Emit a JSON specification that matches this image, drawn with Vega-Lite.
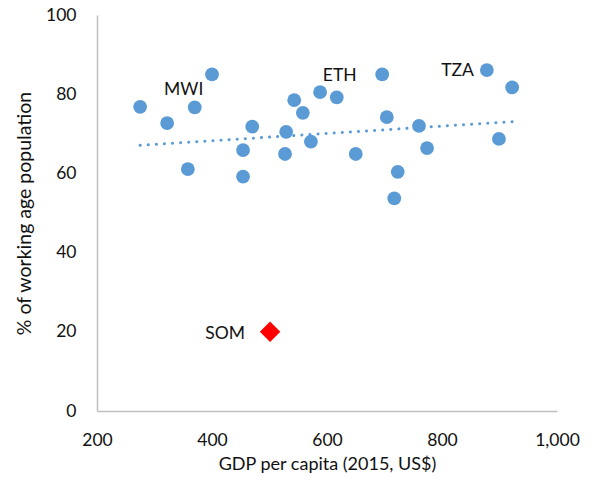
{
  "$schema": "https://vega.github.io/schema/vega-lite/v6.json",
  "width": 460,
  "height": 396,
  "autosize": {"type": "none"},
  "padding": {"left": 97, "top": 15, "right": 35, "bottom": 67},
  "background": "white",
  "config": {
    "view": {"stroke": null},
    "font": "Lato",
    "axis": {
      "grid": false,
      "ticks": false,
      "labelFlush": false,
      "labelOverlap": false,
      "domainColor": "#BFBFBF",
      "domainWidth": 1.5,
      "labelFont": "Lato",
      "labelFontSize": 17.5,
      "labelColor": "#111111",
      "titleFont": "Lato",
      "titleFontSize": 18,
      "titleFontWeight": "normal",
      "titleColor": "#111111"
    }
  },
  "data": {
    "values": [
      {"gdp": 275, "pct": 76.8, "group": "other", "label": ""},
      {"gdp": 322, "pct": 72.7, "group": "other", "label": ""},
      {"gdp": 358, "pct": 61.1, "group": "other", "label": ""},
      {"gdp": 370, "pct": 76.7, "group": "other", "label": "MWI"},
      {"gdp": 400, "pct": 85.0, "group": "other", "label": ""},
      {"gdp": 454, "pct": 65.9, "group": "other", "label": ""},
      {"gdp": 454, "pct": 59.2, "group": "other", "label": ""},
      {"gdp": 470, "pct": 71.8, "group": "other", "label": ""},
      {"gdp": 529, "pct": 70.5, "group": "other", "label": ""},
      {"gdp": 527, "pct": 64.9, "group": "other", "label": ""},
      {"gdp": 543, "pct": 78.5, "group": "other", "label": ""},
      {"gdp": 558, "pct": 75.3, "group": "other", "label": ""},
      {"gdp": 572, "pct": 68.0, "group": "other", "label": ""},
      {"gdp": 588, "pct": 80.5, "group": "other", "label": ""},
      {"gdp": 617, "pct": 79.2, "group": "other", "label": "ETH"},
      {"gdp": 650, "pct": 64.9, "group": "other", "label": ""},
      {"gdp": 696, "pct": 85.0, "group": "other", "label": ""},
      {"gdp": 704, "pct": 74.2, "group": "other", "label": ""},
      {"gdp": 723, "pct": 60.4, "group": "other", "label": ""},
      {"gdp": 717, "pct": 53.7, "group": "other", "label": ""},
      {"gdp": 760, "pct": 72.0, "group": "other", "label": ""},
      {"gdp": 774, "pct": 66.4, "group": "other", "label": ""},
      {"gdp": 878, "pct": 86.1, "group": "other", "label": "TZA"},
      {"gdp": 899, "pct": 68.7, "group": "other", "label": ""},
      {"gdp": 922, "pct": 81.7, "group": "other", "label": ""},
      {"gdp": 501, "pct": 20.0, "group": "SOM", "label": "SOM"}
    ]
  },
  "layer": [
    {
      "transform": [{"regression": "pct", "on": "gdp", "extent": [275, 922]}],
      "mark": {"type": "line", "color": "#5B9BD5", "strokeWidth": 3, "strokeDash": [0.1, 8], "strokeCap": "round"},
      "encoding": {
        "x": {"field": "gdp", "type": "quantitative"},
        "y": {"field": "pct", "type": "quantitative"}
      }
    },
    {
      "mark": {"type": "point", "filled": true, "opacity": 1},
      "encoding": {
        "x": {
          "field": "gdp", "type": "quantitative",
          "scale": {"domain": [200, 1000], "nice": false, "zero": false},
          "axis": {"values": [200, 400, 600, 800, 1000], "format": ",.0f", "labelPadding": 20, "title": "GDP per capita (2015, US$)", "titlePadding": 7}
        },
        "y": {
          "field": "pct", "type": "quantitative",
          "scale": {"domain": [0, 100], "nice": false},
          "axis": {"values": [0, 20, 40, 60, 80, 100], "labelPadding": 21, "title": "% of working age population", "titlePadding": 11, "titleFontSize": 19.5}
        },
        "color": {"field": "group", "type": "nominal", "scale": {"domain": ["other", "SOM"], "range": ["#5B9BD5", "#FF0000"]}, "legend": null},
        "shape": {"field": "group", "type": "nominal", "scale": {"domain": ["other", "SOM"], "range": ["circle", "diamond"]}, "legend": null},
        "size": {"field": "group", "type": "nominal", "scale": {"domain": ["other", "SOM"], "range": [190, 420]}, "legend": null}
      }
    },
    {
      "transform": [{"filter": "datum.label == 'MWI'"}],
      "mark": {"type": "text", "fontSize": 17.5, "font": "Lato", "color": "#111111", "align": "center", "baseline": "middle", "dx": -11, "dy": -17},
      "encoding": {
        "x": {"field": "gdp", "type": "quantitative"},
        "y": {"field": "pct", "type": "quantitative"},
        "text": {"field": "label"}
      }
    },
    {
      "transform": [{"filter": "datum.label == 'ETH'"}],
      "mark": {"type": "text", "fontSize": 17.5, "font": "Lato", "color": "#111111", "align": "center", "baseline": "middle", "dx": 3, "dy": -21},
      "encoding": {
        "x": {"field": "gdp", "type": "quantitative"},
        "y": {"field": "pct", "type": "quantitative"},
        "text": {"field": "label"}
      }
    },
    {
      "transform": [{"filter": "datum.label == 'TZA'"}],
      "mark": {"type": "text", "fontSize": 17.5, "font": "Lato", "color": "#111111", "align": "right", "baseline": "middle", "dx": -13, "dy": 1},
      "encoding": {
        "x": {"field": "gdp", "type": "quantitative"},
        "y": {"field": "pct", "type": "quantitative"},
        "text": {"field": "label"}
      }
    },
    {
      "transform": [{"filter": "datum.label == 'SOM'"}],
      "mark": {"type": "text", "fontSize": 17.5, "font": "Lato", "color": "#111111", "align": "right", "baseline": "middle", "dx": -25, "dy": 2},
      "encoding": {
        "x": {"field": "gdp", "type": "quantitative"},
        "y": {"field": "pct", "type": "quantitative"},
        "text": {"field": "label"}
      }
    }
  ]
}
